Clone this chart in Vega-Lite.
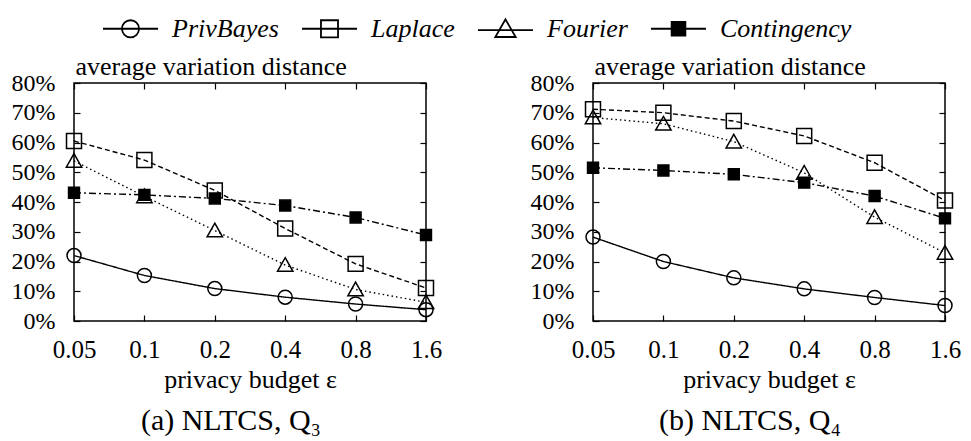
{
  "$schema": "https://vega.github.io/schema/vega-lite/v6.json",
  "padding": {"left": 10, "top": 0, "right": 5, "bottom": 2},
  "background": "white",
  "config": {
    "view": {"stroke": "black", "strokeWidth": 1.5},
    "axis": {"domain": false, "grid": false, "tickColor": "black", "tickWidth": 1.2, "labelColor": "black", "titleColor": "black", "labelFont": "Liberation Serif", "titleFont": "Liberation Serif", "titleFontWeight": "normal"},
    "title": {"font": "Liberation Serif", "fontWeight": "normal", "color": "black"}
  },
  "datasets": {
    "d": [
      {"panel": "a", "method": "PrivBayes", "eps": 0.05, "v": 0.220},
      {"panel": "a", "method": "PrivBayes", "eps": 0.1, "v": 0.153},
      {"panel": "a", "method": "PrivBayes", "eps": 0.2, "v": 0.109},
      {"panel": "a", "method": "PrivBayes", "eps": 0.4, "v": 0.080},
      {"panel": "a", "method": "PrivBayes", "eps": 0.8, "v": 0.057},
      {"panel": "a", "method": "PrivBayes", "eps": 1.6, "v": 0.038},
      {"panel": "a", "method": "Laplace", "eps": 0.05, "v": 0.605},
      {"panel": "a", "method": "Laplace", "eps": 0.1, "v": 0.541},
      {"panel": "a", "method": "Laplace", "eps": 0.2, "v": 0.439},
      {"panel": "a", "method": "Laplace", "eps": 0.4, "v": 0.311},
      {"panel": "a", "method": "Laplace", "eps": 0.8, "v": 0.192},
      {"panel": "a", "method": "Laplace", "eps": 1.6, "v": 0.111},
      {"panel": "a", "method": "Fourier", "eps": 0.05, "v": 0.538},
      {"panel": "a", "method": "Fourier", "eps": 0.1, "v": 0.419},
      {"panel": "a", "method": "Fourier", "eps": 0.2, "v": 0.304},
      {"panel": "a", "method": "Fourier", "eps": 0.4, "v": 0.188},
      {"panel": "a", "method": "Fourier", "eps": 0.8, "v": 0.106},
      {"panel": "a", "method": "Fourier", "eps": 1.6, "v": 0.063},
      {"panel": "a", "method": "Contingency", "eps": 0.05, "v": 0.431},
      {"panel": "a", "method": "Contingency", "eps": 0.1, "v": 0.424},
      {"panel": "a", "method": "Contingency", "eps": 0.2, "v": 0.412},
      {"panel": "a", "method": "Contingency", "eps": 0.4, "v": 0.388},
      {"panel": "a", "method": "Contingency", "eps": 0.8, "v": 0.348},
      {"panel": "a", "method": "Contingency", "eps": 1.6, "v": 0.289},
      {"panel": "b", "method": "PrivBayes", "eps": 0.05, "v": 0.282},
      {"panel": "b", "method": "PrivBayes", "eps": 0.1, "v": 0.200},
      {"panel": "b", "method": "PrivBayes", "eps": 0.2, "v": 0.145},
      {"panel": "b", "method": "PrivBayes", "eps": 0.4, "v": 0.108},
      {"panel": "b", "method": "PrivBayes", "eps": 0.8, "v": 0.079},
      {"panel": "b", "method": "PrivBayes", "eps": 1.6, "v": 0.052},
      {"panel": "b", "method": "Laplace", "eps": 0.05, "v": 0.712},
      {"panel": "b", "method": "Laplace", "eps": 0.1, "v": 0.700},
      {"panel": "b", "method": "Laplace", "eps": 0.2, "v": 0.672},
      {"panel": "b", "method": "Laplace", "eps": 0.4, "v": 0.622},
      {"panel": "b", "method": "Laplace", "eps": 0.8, "v": 0.532},
      {"panel": "b", "method": "Laplace", "eps": 1.6, "v": 0.405},
      {"panel": "b", "method": "Fourier", "eps": 0.05, "v": 0.684},
      {"panel": "b", "method": "Fourier", "eps": 0.1, "v": 0.663},
      {"panel": "b", "method": "Fourier", "eps": 0.2, "v": 0.603},
      {"panel": "b", "method": "Fourier", "eps": 0.4, "v": 0.498},
      {"panel": "b", "method": "Fourier", "eps": 0.8, "v": 0.349},
      {"panel": "b", "method": "Fourier", "eps": 1.6, "v": 0.229},
      {"panel": "b", "method": "Contingency", "eps": 0.05, "v": 0.515},
      {"panel": "b", "method": "Contingency", "eps": 0.1, "v": 0.506},
      {"panel": "b", "method": "Contingency", "eps": 0.2, "v": 0.493},
      {"panel": "b", "method": "Contingency", "eps": 0.4, "v": 0.465},
      {"panel": "b", "method": "Contingency", "eps": 0.8, "v": 0.420},
      {"panel": "b", "method": "Contingency", "eps": 1.6, "v": 0.345}
    ]
  },
  "data": {"name": "d"},
  "spacing": 86,
  "hconcat": [
    {
      "transform": [{"filter": "datum.panel === 'a'"}],
      "width": 352,
      "height": 238,
      "title": {"text": "(a) NLTCS, Q₃", "orient": "bottom", "fontSize": 30, "offset": 14, "dx": -19},
      "resolve": {"axis": {"x": "independent", "y": "independent"}},
      "layer": [
        {
          "mark": {"type": "line", "stroke": "black", "strokeWidth": 1.4},
          "encoding": {
            "x": {"field": "eps", "type": "quantitative", "scale": {"type": "log", "domain": [0.05, 1.6], "nice": false},
                  "axis": {"orient": "bottom", "values": [0.05, 0.1, 0.2, 0.4, 0.8, 1.6], "format": "~g", "labelFlush": false, "labelOverlap": false, "labelBound": false, "labelFontSize": 25, "tickSize": -6, "labelPadding": 22, "title": "privacy budget ε", "titleFontSize": 26, "titlePadding": 4}},
            "y": {"field": "v", "type": "quantitative", "scale": {"domain": [0, 0.8], "nice": false},
                  "axis": {"orient": "left", "values": [0, 0.1, 0.2, 0.3, 0.4, 0.5, 0.6, 0.7, 0.8], "format": ".0%", "labelFontSize": 24, "tickSize": -6, "labelPadding": 25, "title": "average variation distance", "titleFontSize": 26, "titleAngle": 0, "titleAlign": "left", "titleBaseline": "alphabetic", "titleX": 1, "titleY": -9}},
            "detail": {"field": "method", "type": "nominal"},
            "strokeDash": {"condition": [{"test": "datum.method === 'Laplace'", "value": [5, 3]}, {"test": "datum.method === 'Fourier'", "value": [1.5, 3]}, {"test": "datum.method === 'Contingency'", "value": [7, 3, 2, 3]}], "value": [1, 0]}
          }
        },
        {
          "mark": {"type": "point", "stroke": "black", "strokeWidth": 1.5, "opacity": 1, "size": 196},
          "encoding": {
            "x": {"field": "eps", "type": "quantitative", "axis": {"orient": "top", "values": [0.05, 0.1, 0.2, 0.4, 0.8, 1.6], "labels": false, "tickSize": -6, "title": null}},
            "y": {"field": "v", "type": "quantitative", "axis": {"orient": "right", "values": [0, 0.1, 0.2, 0.3, 0.4, 0.5, 0.6, 0.7, 0.8], "labels": false, "tickSize": -6, "title": null}},
            "shape": {"condition": [{"test": "datum.method === 'PrivBayes'", "value": "M1,0A1,1,0,1,1,-1,0A1,1,0,1,1,1,0Z"}, {"test": "datum.method === 'Laplace'", "value": "M-1.07,-1.07L1.07,-1.07L1.07,1.07L-1.07,1.07Z"}, {"test": "datum.method === 'Fourier'", "value": "M0,-1.05L1.1,0.9L-1.1,0.9Z"}], "value": "M-0.78,-0.78L0.78,-0.78L0.78,0.78L-0.78,0.78Z"},
            "fill": {"condition": {"test": "datum.method === 'Contingency'", "value": "black"}, "value": "transparent"}
          }
        },
        {
          "mark": {"type": "point", "opacity": 0, "size": 196, "stroke": "black"},
          "encoding": {
            "x": {"field": "eps", "type": "quantitative", "axis": null},
            "y": {"field": "v", "type": "quantitative", "axis": null},
            "shape": {"field": "method", "type": "nominal", "scale": {"domain": ["PrivBayes", "Laplace", "Fourier", "Contingency"], "range": ["M-1,0L1,0M0.31,0A0.31,0.31,0,1,1,-0.31,0A0.31,0.31,0,1,1,0.31,0Z", "M-1,0L1,0M-0.31,-0.31L0.31,-0.31L0.31,0.31L-0.31,0.31Z", "M-1,0.05L1,0.05M0,-0.34L0.37,0.3L-0.37,0.3Z", "M-1,0L1,0M-0.25,-0.25L0.25,-0.25L0.25,0.25L-0.25,0.25Z"]},
                      "legend": {"title": null, "orient": "none", "legendX": 28, "legendY": -83, "direction": "horizontal", "columns": 4, "labelFont": "Liberation Serif", "labelFontStyle": "italic", "labelFontSize": 26, "labelColor": "black", "symbolSize": 3025, "labelOffset": 13, "columnPadding": 19,
                        "encoding": {"symbols": {
                          "fill": {"value": {"expr": "datum.value === 'Contingency' ? 'black' : 'transparent'"}},
                          "stroke": {"value": "black"},
                          "strokeWidth": {"value": 1.8},
                          "size": {"value": 3025},
                          "opacity": {"value": 1}
                        }}}}
          }
        }
      ]
    },
    {
      "transform": [{"filter": "datum.panel === 'b'"}],
      "width": 352,
      "height": 238,
      "title": {"text": "(b) NLTCS, Q₄", "orient": "bottom", "fontSize": 30, "offset": 14, "dx": -19},
      "resolve": {"axis": {"x": "independent", "y": "independent"}},
      "layer": [
        {
          "mark": {"type": "line", "stroke": "black", "strokeWidth": 1.4},
          "encoding": {
            "x": {"field": "eps", "type": "quantitative", "scale": {"type": "log", "domain": [0.05, 1.6], "nice": false},
                  "axis": {"orient": "bottom", "values": [0.05, 0.1, 0.2, 0.4, 0.8, 1.6], "format": "~g", "labelFlush": false, "labelOverlap": false, "labelBound": false, "labelFontSize": 25, "tickSize": -6, "labelPadding": 22, "title": "privacy budget ε", "titleFontSize": 26, "titlePadding": 4}},
            "y": {"field": "v", "type": "quantitative", "scale": {"domain": [0, 0.8], "nice": false},
                  "axis": {"orient": "left", "values": [0, 0.1, 0.2, 0.3, 0.4, 0.5, 0.6, 0.7, 0.8], "format": ".0%", "labelFontSize": 24, "tickSize": -6, "labelPadding": 25, "title": "average variation distance", "titleFontSize": 26, "titleAngle": 0, "titleAlign": "left", "titleBaseline": "alphabetic", "titleX": 1, "titleY": -9}},
            "detail": {"field": "method", "type": "nominal"},
            "strokeDash": {"condition": [{"test": "datum.method === 'Laplace'", "value": [5, 3]}, {"test": "datum.method === 'Fourier'", "value": [1.5, 3]}, {"test": "datum.method === 'Contingency'", "value": [7, 3, 2, 3]}], "value": [1, 0]}
          }
        },
        {
          "mark": {"type": "point", "stroke": "black", "strokeWidth": 1.5, "opacity": 1, "size": 196},
          "encoding": {
            "x": {"field": "eps", "type": "quantitative", "axis": {"orient": "top", "values": [0.05, 0.1, 0.2, 0.4, 0.8, 1.6], "labels": false, "tickSize": -6, "title": null}},
            "y": {"field": "v", "type": "quantitative", "axis": {"orient": "right", "values": [0, 0.1, 0.2, 0.3, 0.4, 0.5, 0.6, 0.7, 0.8], "labels": false, "tickSize": -6, "title": null}},
            "shape": {"condition": [{"test": "datum.method === 'PrivBayes'", "value": "M1,0A1,1,0,1,1,-1,0A1,1,0,1,1,1,0Z"}, {"test": "datum.method === 'Laplace'", "value": "M-1.07,-1.07L1.07,-1.07L1.07,1.07L-1.07,1.07Z"}, {"test": "datum.method === 'Fourier'", "value": "M0,-1.05L1.1,0.9L-1.1,0.9Z"}], "value": "M-0.78,-0.78L0.78,-0.78L0.78,0.78L-0.78,0.78Z"},
            "fill": {"condition": {"test": "datum.method === 'Contingency'", "value": "black"}, "value": "transparent"}
          }
        }
      ]
    }
  ]
}
